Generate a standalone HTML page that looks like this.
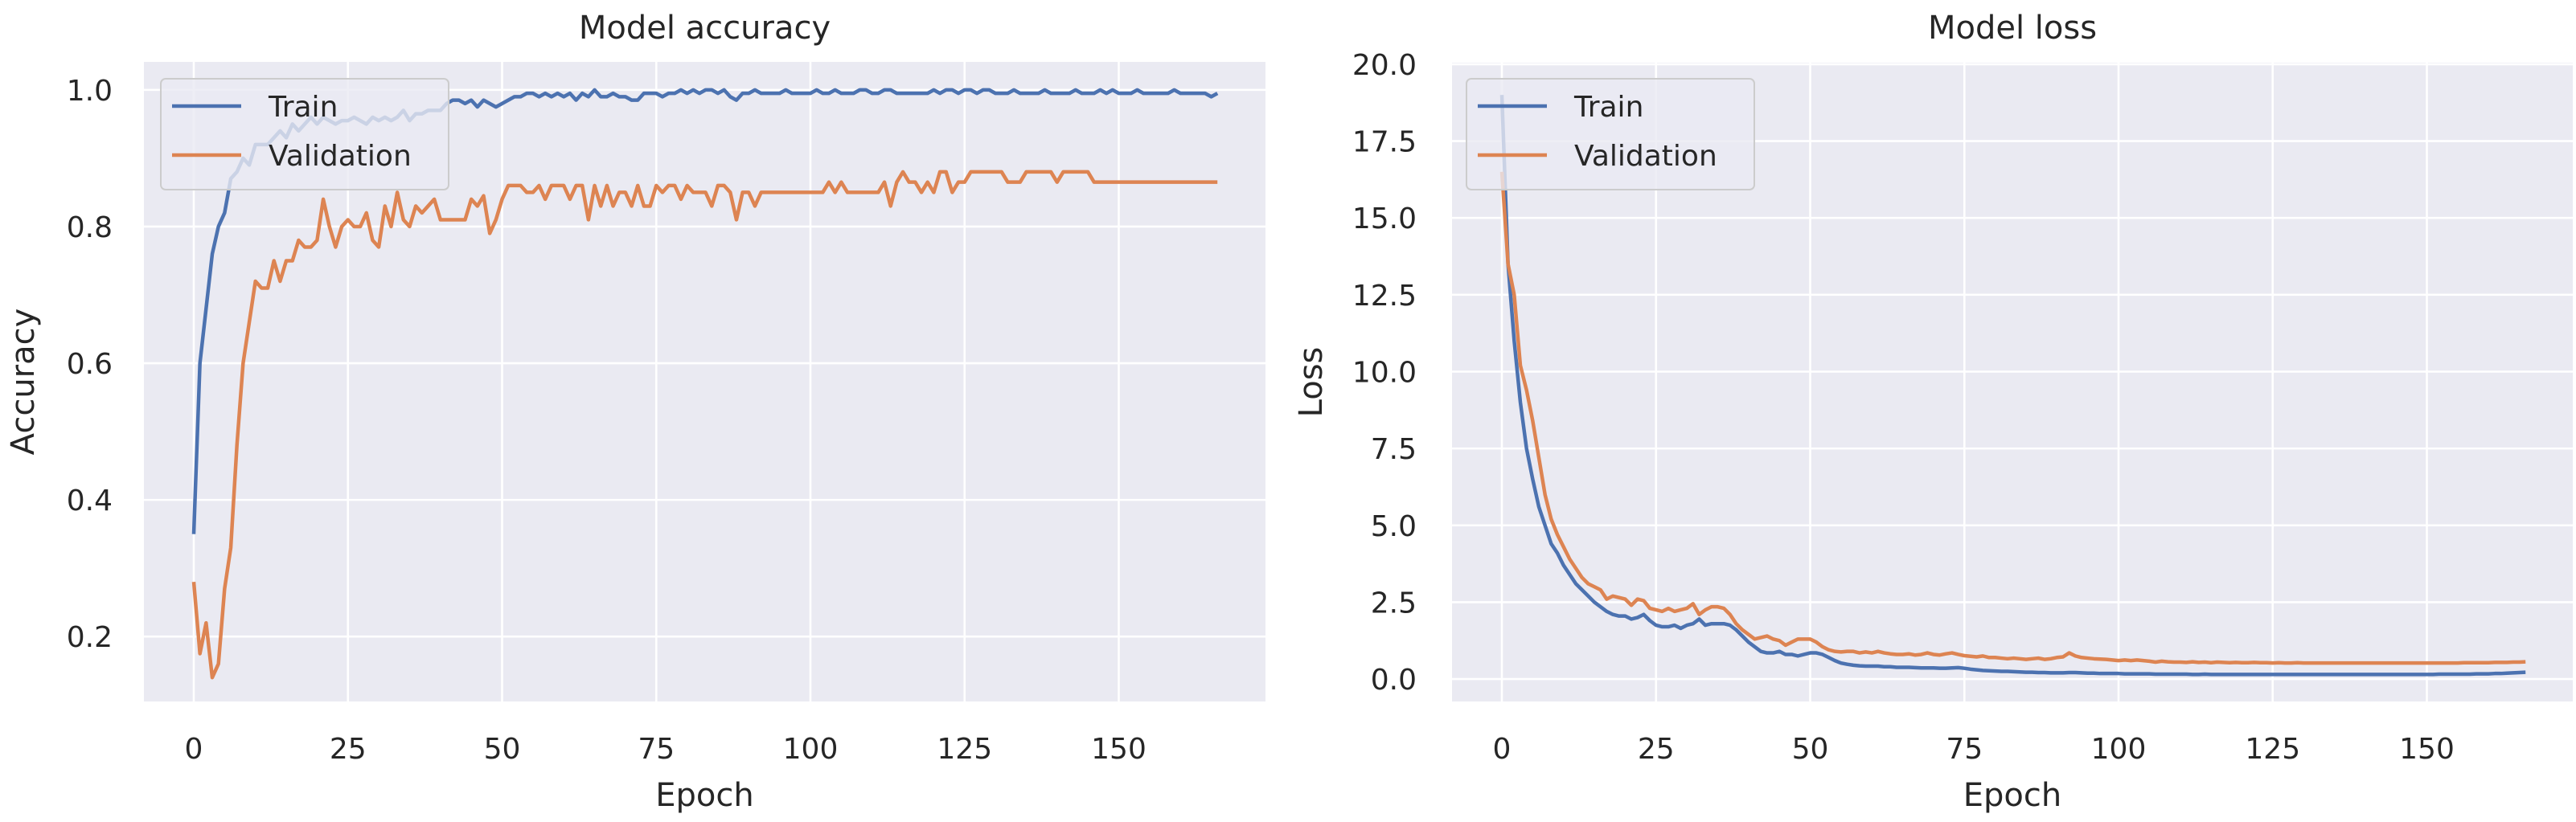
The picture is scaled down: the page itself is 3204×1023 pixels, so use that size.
<!DOCTYPE html>
<html><head><meta charset="utf-8"><style>
html,body{margin:0;padding:0;background:#fff}
svg{display:block}
text{font-family:"DejaVu Sans","Liberation Sans",sans-serif;fill:#262626}
</style></head><body>
<svg id="fig" width="3204" height="1023" viewBox="0 0 3204 1023" xmlns="http://www.w3.org/2000/svg"></svg>
<script>
const epochs = Array.from({length:167},(_,i)=>i);
const accTrain = [0.35,0.60,0.68,0.76,0.80,0.82,0.87,0.88,0.90,0.89,0.92,0.92,0.92,0.93,0.94,0.93,0.95,0.94,0.95,0.96,0.95,0.96,0.955,0.95,0.955,0.955,0.96,0.955,0.95,0.96,0.955,0.96,0.955,0.96,0.97,0.955,0.965,0.965,0.97,0.97,0.97,0.98,0.985,0.985,0.98,0.985,0.975,0.985,0.98,0.975,
0.98,0.985,0.99,0.99,0.995,0.995,0.99,0.995,0.99,0.995,
0.99,0.995,0.985,0.995,0.99,1.0,0.99,0.99,0.995,0.99,
0.99,0.985,0.985,0.995,0.995,0.995,0.99,0.995,0.995,1.0,
0.995,1.0,0.995,1.0,1.0,0.995,1.0,0.99,0.985,0.995,
0.995,1.0,0.995,0.995,0.995,0.995,1.0,0.995,0.995,0.995,
0.995,1.0,0.995,0.995,1.0,0.995,0.995,0.995,1.0,1.0,
0.995,0.995,1.0,1.0,0.995,0.995,0.995,0.995,0.995,0.995,
1.0,0.995,1.0,1.0,0.995,1.0,1.0,0.995,1.0,1.0,
0.995,0.995,0.995,1.0,0.995,0.995,0.995,0.995,1.0,0.995,
0.995,0.995,0.995,1.0,0.995,0.995,0.995,1.0,0.995,1.0,
0.995,0.995,0.995,1.0,0.995,0.995,0.995,0.995,0.995,1.0,
0.995,0.995,0.995,0.995,0.995,0.99,0.995];
const accVal = [0.28,0.175,0.22,0.14,0.16,0.27,0.33,0.48,0.60,0.66,0.72,0.71,0.71,0.75,0.72,0.75,0.75,0.78,0.77,0.77,0.78,0.84,0.80,0.77,0.80,0.81,0.80,0.80,0.82,0.78,0.77,0.83,0.80,0.85,0.81,0.80,0.83,0.82,0.83,0.84,0.81,0.81,0.81,0.81,0.81,0.84,0.83,0.845,0.79,0.81,
0.84,0.86,0.86,0.86,0.85,0.85,0.86,0.84,0.86,0.86,
0.86,0.84,0.86,0.86,0.81,0.86,0.83,0.86,0.83,0.85,
0.85,0.83,0.86,0.83,0.83,0.86,0.85,0.86,0.86,0.84,
0.86,0.85,0.85,0.85,0.83,0.86,0.86,0.85,0.81,0.85,
0.85,0.83,0.85,0.85,0.85,0.85,0.85,0.85,0.85,0.85,
0.85,0.85,0.85,0.865,0.85,0.865,0.85,0.85,0.85,0.85,
0.85,0.85,0.865,0.83,0.865,0.88,0.865,0.865,0.85,0.865,
0.85,0.88,0.88,0.85,0.865,0.865,0.88,0.88,0.88,0.88,
0.88,0.88,0.865,0.865,0.865,0.88,0.88,0.88,0.88,0.88,
0.865,0.88,0.88,0.88,0.88,0.88,0.865,0.865,0.865,0.865,
0.865,0.865,0.865,0.865,0.865,0.865,0.865,0.865,0.865,0.865,0.865,0.865,0.865,0.865,0.865,0.865,0.865];
const lossTrain = [19.0,13.5,11.0,9.0,7.5,6.5,5.6,5.0,4.4,4.1,3.7,3.4,3.1,2.9,2.7,2.5,2.35,2.2,2.1,2.05,2.05,1.95,2.0,2.1,1.9,1.75,1.7,1.7,1.75,1.65,1.75,1.8,1.95,1.75,1.8,1.8,1.8,1.75,1.6,1.4,1.2,1.05,0.9,0.85,0.85,0.9,0.8,0.8,0.75,0.8,0.85,0.85,0.8,
0.7,0.6,0.52,0.48,0.45,0.43,0.42,0.42,
0.42,0.4,0.4,0.38,0.38,0.38,0.37,0.36,0.36,
0.36,0.35,0.35,0.36,0.37,0.35,0.32,0.3,0.28,0.27,
0.26,0.25,0.25,0.24,0.23,0.22,0.22,0.21,0.21,0.2,
0.2,0.2,0.21,0.21,0.2,0.19,0.19,0.18,0.18,0.18,
0.18,0.17,0.17,0.17,0.17,0.17,0.16,0.16,0.16,0.16,
0.16,0.16,0.15,0.15,0.16,0.15,0.15,0.15,0.15,0.15,
0.15,0.15,0.15,0.15,0.15,0.15,0.15,0.15,0.15,0.15,
0.15,0.15,0.15,0.15,0.15,0.15,0.15,0.15,0.15,0.15,
0.15,0.15,0.15,0.15,0.15,0.15,0.15,0.15,0.15,0.15,
0.15,0.15,0.16,0.16,0.16,0.16,0.16,0.16,0.17,0.17,
0.17,0.18,0.18,0.19,0.2,0.21,0.22];
const lossVal = [16.5,13.5,12.5,10.2,9.4,8.4,7.2,6.0,5.2,4.7,4.3,3.9,3.6,3.3,3.1,3.0,2.9,2.6,2.7,2.65,2.6,2.4,2.6,2.55,2.3,2.25,2.2,2.3,2.2,2.25,2.3,2.45,2.1,2.25,2.35,2.35,2.3,2.1,1.8,1.6,1.45,1.3,1.35,1.4,1.3,1.25,1.1,1.2,1.3,1.3,1.3,1.2,1.05,
0.95,0.9,0.88,0.9,0.9,0.85,0.88,0.85,
0.9,0.85,0.82,0.8,0.8,0.82,0.78,0.8,0.85,
0.8,0.78,0.82,0.85,0.8,0.76,0.74,0.72,0.75,0.7,
0.7,0.68,0.66,0.68,0.66,0.64,0.66,0.68,0.64,0.66,
0.7,0.72,0.85,0.75,0.7,0.68,0.66,0.65,0.64,0.62,
0.6,0.62,0.6,0.62,0.6,0.58,0.55,0.58,0.56,0.55,
0.55,0.54,0.56,0.54,0.55,0.53,0.55,0.54,0.53,0.54,
0.53,0.53,0.54,0.53,0.53,0.52,0.53,0.52,0.52,0.53,
0.52,0.52,0.52,0.52,0.52,0.52,0.52,0.52,0.52,0.52,
0.52,0.52,0.52,0.52,0.52,0.52,0.52,0.52,0.52,0.52,
0.52,0.52,0.52,0.52,0.52,0.52,0.53,0.53,0.53,0.53,
0.53,0.54,0.54,0.54,0.55,0.55,0.56];
const xTicks = [0,25,50,75,100,125,150];
const accTicks = [0.2,0.4,0.6,0.8,1.0];
const lossTicks = [0,2.5,5,7.5,10,12.5,15,17.5,20];

const NS='http://www.w3.org/2000/svg';
const fig=document.getElementById('fig');
function el(tag,attrs,parent,txt){const e=document.createElementNS(NS,tag);for(const k in attrs)e.setAttribute(k,attrs[k]);if(txt!==undefined)e.textContent=txt;(parent||fig).appendChild(e);return e;}

function panel(cfg){
  const g=el('g',{});
  
  
  const {L,R,T,B,x0,xs,ymin,ymax}=cfg;
  const sx=e=>x0+e*xs;
  const sy=v=>B-(v-ymin)/(ymax-ymin)*(B-T);
  const bg=el('rect',{x:L,y:T,width:R-L,height:B-T,fill:'#EAEAF2'},g);
  
  
  xTicks.forEach(t=>{
    const gl=el('line',{x1:sx(t),x2:sx(t),y1:T,y2:B,stroke:'#fff','stroke-width':2.6},g);
    
    
    const tl=el('text',{x:sx(t),y:944,'font-size':36,'text-anchor':'middle'},g,String(t));
    
    
  });
  cfg.yTicks.forEach(t=>{
    const gl=el('line',{x1:L,x2:R,y1:sy(t),y2:sy(t),stroke:'#fff','stroke-width':2.6},g);
    
    
    const tl=el('text',{x:cfg.yLabX,y:sy(t)+13,'font-size':36,'text-anchor':'end'},g,t.toFixed(1));
    
    
  });
  const series=[[cfg.train,'#4C72B0','train-line'],[cfg.val,'#DD8452','validation-line']];
  series.forEach(([d,c,n])=>{
    const p=el('polyline',{points:d.map((v,i)=>sx(epochs[i])+','+sy(v)).join(' '),fill:'none',stroke:c,'stroke-width':4.5,'stroke-linejoin':'round'},g);
    
    
  });
  const t=el('text',{x:(L+R)/2,y:48,'font-size':40,'text-anchor':'middle'},g,cfg.title);
  
  
  const xl=el('text',{x:(L+R)/2,y:1003,'font-size':40,'text-anchor':'middle'},g,'Epoch');
  
  
  const yl=el('text',{x:0,y:0,'font-size':40,'text-anchor':'middle',transform:`translate(${cfg.yTitleX},${(T+B)/2}) rotate(-90)`},g,cfg.ylabel);
  
  
  const lg=el('g',{},g);
  
  
  const lx=cfg.legX;
  el('rect',{x:lx,y:98,width:358,height:138,rx:6,fill:'#EAEAF2','fill-opacity':0.8,stroke:'#cccccc','stroke-width':2},lg);
  [['Train','#4C72B0',132],['Validation','#DD8452',193]].forEach(([lab,c,y])=>{
    const e=el('line',{x1:lx+14,x2:lx+100,y1:y,y2:y,stroke:c,'stroke-width':4.5},lg);
    
    
    const tx=el('text',{x:lx+134,y:y+13,'font-size':36},lg,lab);
    
    
  });
}
panel({name:'accuracy-chart',title:'Model accuracy',ylabel:'Accuracy',L:179,R:1574,T:77,B:873,x0:241,xs:7.67,ymin:0.105,ymax:1.041,yTicks:accTicks,yLabX:140,yTitleX:42,train:accTrain,val:accVal,legX:200});
panel({name:'loss-chart',title:'Model loss',ylabel:'Loss',L:1806,R:3200,T:78,B:873,x0:1868,xs:7.67,ymin:-0.73,ymax:20.05,yTicks:lossTicks,yLabX:1762,yTitleX:1644,train:lossTrain,val:lossVal,legX:1824});
</script>
</body></html>
